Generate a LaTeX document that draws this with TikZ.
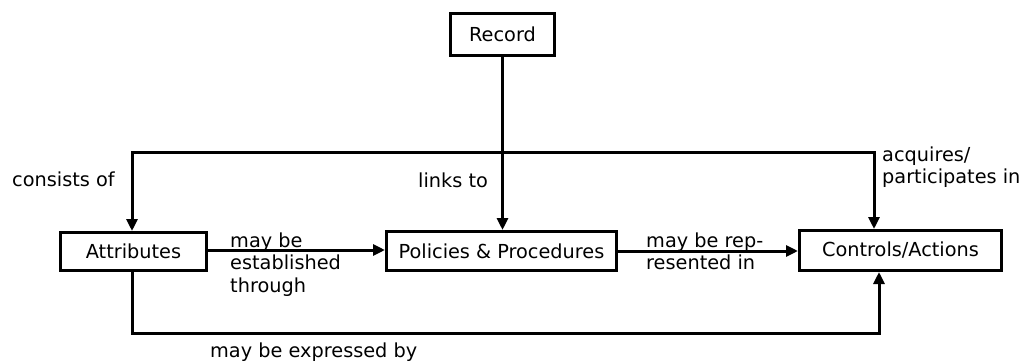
\documentclass[tikz,border=0pt]{standalone}
\usepackage{fontspec}
\setmainfont{DejaVu Sans}
\usetikzlibrary{arrows.meta}
\begin{document}
\begin{tikzpicture}[x=1pt,y=-1pt,
  every node/.style={font=\fontsize{19.3}{22.5}\selectfont},
  box/.style={draw,line width=3pt,inner sep=0pt,align=center},
  lbl/.style={inner sep=0pt,align=left,anchor=base west},
  conn/.style={line width=3pt},
  arr/.style={conn,-{Triangle[width=11pt,length=12pt]}}]
\useasboundingbox (0,0) rectangle (1029,364);
\node[box,minimum width=104pt,minimum height=42pt] (Record) at (502.5,34.5) {Record};
\node[box,minimum width=146pt,minimum height=38pt] (Attributes) at (133.5,251.5) {Attributes};
\node[box,minimum width=230pt,minimum height=39pt] (Policies) at (501.5,251) {Policies \& Procedures};
\node[box,minimum width=202pt,minimum height=40pt] (Controls) at (900.5,250.5) {Controls/Actions};
\coordinate (J) at (502,152.5);
\coordinate (TL) at (132,152.5);
\coordinate (TR) at (874,152.5);
\coordinate (BL) at (132,333);
\coordinate (BR) at (879,333);
\draw[arr] (Record.south) -- (Record.south |- Policies.north);
\draw[arr] (J) -- (TL) -- (TL |- Attributes.north);
\draw[arr] (J) -- (TR) -- (TR |- Controls.north);
\draw[arr] (Attributes.east |- 0,250) -- (Policies.west |- 0,250);
\draw[arr] (Policies.east) -- (Controls.west |- Policies.east);
\draw[arr] (TL |- Attributes.south) -- (BL) -- (BR) -- (BR |- Controls.south);
\node[lbl] (l1) at (12,186) {consists of};
\node[lbl] (l2) at (418,187) {links to};
\node[lbl] (l3) at (230,292) {may be\\established\\through};
\node[lbl] (l4) at (646,269.5) {may be rep-\\resented in};
\node[lbl] (l5) at (882,183.5) {acquires/\\participates in};
\node[lbl] (l6) at (210,357) {may be expressed by};
\end{tikzpicture}
\end{document}
